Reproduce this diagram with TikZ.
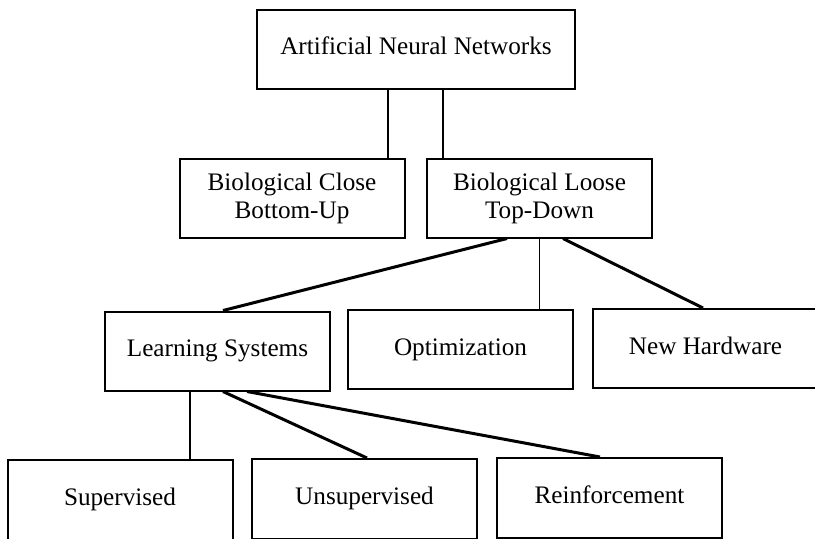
\documentclass[tikz,border=0pt]{standalone}
\usepackage{fontspec}
\setmainfont{Liberation Serif}
\usepackage{tikz}

\tikzset{
  box/.style={draw, line width=1pt, minimum width=112.5pt, minimum height=39.5pt,
    inner sep=0pt, align=center, font=\fontsize{12.6}{14}\selectfont},
  onerow/.style={box, text height=8.6pt, text depth=2.8pt},
  link/.style={line width=1pt},
  thinlink/.style={line width=0.75pt},
  thicklink/.style={line width=1.5pt}
}

\begin{document}
\begin{tikzpicture}[x=0.5pt, y=-0.5pt]
    \clip (0, 0) rectangle (815, 538);

    \node[onerow, minimum width=159pt] (ann) at (416, 49) {Artificial Neural Networks};

    \node[box] (close) at (292, 198.5) {Biological Close\\Bottom-Up};
    \node[box] (loose) at (539.5, 198) {Biological Loose\\Top-Down};

    \node[onerow] (learn) at (217.5, 351) {Learning Systems};
    \node[onerow] (optim) at (460.5, 349.5) {Optimization};
    \node[onerow] (hard) at (705.5, 348.5) {New Hardware};

    \node[onerow, minimum height=40pt] (sup) at (120, 500) {Supervised};
    \node[onerow, minimum height=40pt] (unsup) at (364.5, 499) {Unsupervised};
    \node[onerow, minimum height=40pt] (reinf) at (609.5, 498) {Reinforcement};

    \draw[link] ([xshift=-14pt]ann.south) -- ([xshift=-14pt]ann.south |- close.north);
    \draw[link] ([xshift=13.5pt]ann.south) -- ([xshift=13.5pt]ann.south |- loose.north);

    \draw[thicklink] ([xshift=-16.25pt]loose.south) -- ([xshift=2.75pt]learn.north);
    \draw[thinlink] (loose.south) -- (loose.south |- optim.north);
    \draw[thicklink] ([xshift=11.75pt]loose.south) -- ([xshift=-1.25pt]hard.north);

    \draw[thinlink] ([xshift=-13.75pt]learn.south) -- ([xshift=-13.75pt]learn.south |- sup.north);
    \draw[thicklink] ([xshift=2.75pt]learn.south) -- ([xshift=1.25pt]unsup.north);
    \draw[thicklink] ([xshift=14.75pt]learn.south) -- ([xshift=-4.75pt]reinf.north);
\end{tikzpicture}
\end{document}
